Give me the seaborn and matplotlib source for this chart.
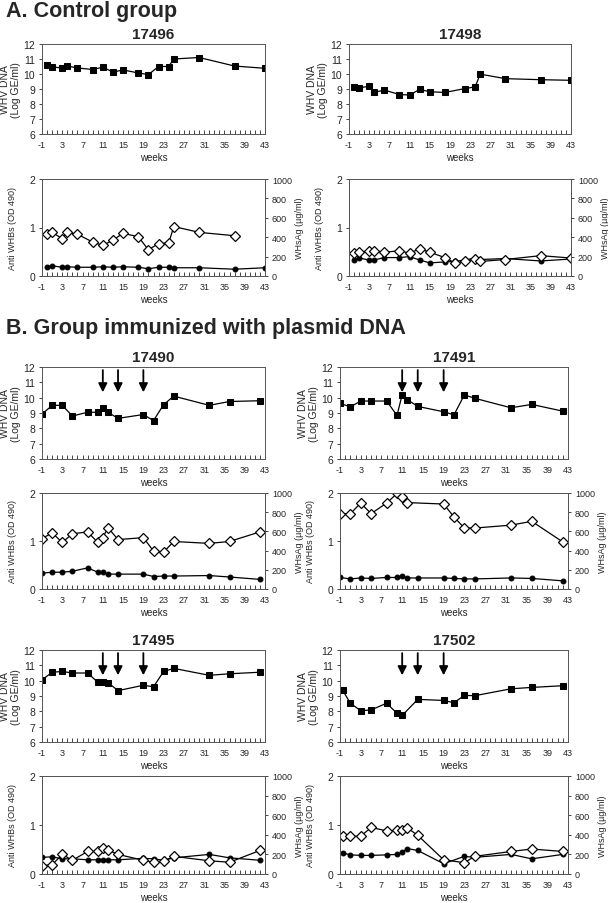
import matplotlib
matplotlib.use("Agg")
import matplotlib.pyplot as plt
import seaborn as sns

# ---- data ----
weeks_a = [0, 1, 3, 4, 6, 9, 11, 13, 15, 18, 20, 22, 24, 25, 30, 37, 43]
weeks_b = [-1, 1, 3, 5, 8, 10, 11, 12, 14, 19, 21, 23, 25, 32, 36, 42]
arrow_weeks = [11, 14, 19]

# 17496 (control)
dna_17496 = [10.6, 10.47, 10.4, 10.53, 10.4, 10.3, 10.45, 10.13, 10.27, 10.07, 9.96, 10.5, 10.5, 11.0, 11.1, 10.53, 10.38]
ag_weeks_17496 = [0, 1, 3, 4, 6, 9, 11, 13, 15, 18, 20, 22, 24, 25, 30, 37]
ag_17496 = [430, 450, 385, 450, 430, 350, 315, 370, 440, 405, 270, 335, 340, 510, 450, 415]
anti_17496 = [0.19, 0.21, 0.18, 0.19, 0.18, 0.18, 0.19, 0.18, 0.19, 0.18, 0.15, 0.18, 0.18, 0.17, 0.17, 0.14, 0.17]

# 17498 (control)
dna_weeks_17498 = [0, 1, 3, 4, 6, 9, 11, 13, 15, 18, 22, 24, 25, 30, 37, 43]
dna_17498 = [9.12, 9.08, 9.18, 8.77, 8.93, 8.63, 8.6, 8.97, 8.82, 8.77, 9.03, 9.14, 9.99, 9.69, 9.62, 9.58]
ag_17498 = [235, 245, 255, 260, 245, 260, 235, 280, 245, 190, 135, 150, 175, 150, 170, 210, 185]
anti_17498 = [0.33, 0.37, 0.33, 0.33, 0.38, 0.38, 0.40, 0.33, 0.27, 0.29, 0.30, 0.33, 0.37, 0.34, 0.36, 0.31, 0.35]

# 17490 (plasmid DNA)
dna_17490 = [8.92, 9.5, 9.5, 8.8, 9.05, 9.05, 9.35, 9.05, 8.65, 8.9, 8.5, 9.55, 10.1, 9.5, 9.75, 9.8]
ag_17490 = [525, 585, 485, 575, 595, 485, 535, 640, 515, 535, 395, 385, 495, 475, 495, 595]
anti_17490 = [0.33, 0.35, 0.35, 0.37, 0.44, 0.35, 0.35, 0.31, 0.31, 0.31, 0.26, 0.27, 0.27, 0.28, 0.25, 0.20]

# 17491 (plasmid DNA)
dna_17491 = [9.63, 9.4, 9.78, 9.78, 9.78, 8.84, 10.2, 9.87, 9.43, 9.08, 8.88, 10.18, 9.96, 9.34, 9.56, 9.12]
ag_weeks_17491 = [-1, 1, 3, 5, 8, 10, 11, 12, 19, 21, 23, 25, 32, 36, 42]
ag_17491 = [785, 785, 895, 785, 895, 995, 955, 900, 885, 750, 635, 635, 665, 705, 490]
anti_17491 = [0.24, 0.21, 0.23, 0.22, 0.24, 0.24, 0.27, 0.23, 0.23, 0.23, 0.22, 0.21, 0.21, 0.23, 0.22, 0.17]

# 17495 (plasmid DNA)
dna_17495 = [10.05, 10.55, 10.6, 10.5, 10.5, 9.9, 9.9, 9.88, 9.35, 9.7, 9.6, 10.6, 10.8, 10.35, 10.45, 10.55]
ag_17495 = [85, 95, 200, 140, 230, 230, 265, 245, 200, 140, 120, 130, 180, 135, 120, 240]
anti_17495 = [0.34, 0.35, 0.31, 0.31, 0.29, 0.29, 0.29, 0.29, 0.29, 0.32, 0.31, 0.28, 0.33, 0.40, 0.33, 0.28]

# 17502 (plasmid DNA)
weeks_17502 = [-0.5, 1, 3, 5, 8, 10, 11, 14, 19, 21, 23, 25, 32, 36, 42]
dna_17502 = [9.38, 8.53, 8.04, 8.09, 8.53, 7.87, 7.73, 8.78, 8.71, 8.56, 9.04, 9.02, 9.47, 9.56, 9.67]
ag_weeks_17502 = [-0.5, 1, 3, 5, 8, 10, 11, 12, 14, 19, 23, 25, 32, 36, 42]
ag_17502 = [385, 385, 385, 475, 440, 445, 450, 470, 395, 145, 115, 180, 230, 255, 230]
anti_weeks_17502 = [-0.5, 1, 3, 5, 8, 10, 11, 12, 14, 19, 23, 25, 32, 36, 42]
anti_17502 = [0.43, 0.39, 0.38, 0.38, 0.39, 0.40, 0.44, 0.52, 0.48, 0.21, 0.36, 0.34, 0.40, 0.31, 0.40]

sns.set_style("ticks")
plt.rcParams["font.family"] = ["Liberation Sans", "DejaVu Sans"]
plt.rcParams["axes.unicode_minus"] = False

W, H = 608, 904
fig = plt.figure(figsize=(W / 100, H / 100), dpi=100)


def rect(x0, y0, x1, y1):
    return [x0 / W, 1 - y1 / H, (x1 - x0) / W, (y1 - y0) / H]


def style_x(ax):
    ax.set_xlim(-1, 43)
    ax.set_xticks(range(-1, 44, 4))
    ax.set_xticks(range(-1, 44, 1), minor=True)
    ax.tick_params(axis="x", which="minor", direction="in", length=3, width=0.6)
    ax.tick_params(axis="x", which="major", direction="in", length=3, width=0.6, labelsize=6.5, pad=4.5)
    ax.tick_params(axis="y", which="major", direction="out", length=2, width=0.6, labelsize=7.5, pad=3)
    for s in ax.spines.values():
        s.set_linewidth(0.7)
        s.set_color("#555555")
    ax.set_xlabel("weeks", fontsize=7, labelpad=2)


def dna_panel(r, weeks, vals, title, arrows=False):
    ax = fig.add_axes(rect(*r))
    sns.lineplot(x=weeks, y=vals, marker="s", color="k", markersize=4, linewidth=0.9,
                 markeredgecolor="k", sort=False, ax=ax)
    style_x(ax)
    ax.set_ylim(6, 12)
    ax.set_yticks(range(6, 13))
    ax.set_ylabel("WHV DNA\n(Log GE/ml)", fontsize=7.5, labelpad=2, linespacing=1.1)
    ax.set_title(title, fontsize=11, fontweight="bold", pad=4)
    if arrows:
        for w in arrow_weeks:
            ax.annotate("", xy=(w, 10.35), xytext=(w, 11.8),
                        arrowprops=dict(arrowstyle="-|>", color="k", lw=1.3,
                                        mutation_scale=13, shrinkA=0, shrinkB=0))
    return ax


def serology_panel(r, anti_weeks, anti, ag_weeks, ag):
    ax = fig.add_axes(rect(*r))
    sns.lineplot(x=anti_weeks, y=anti, marker="o", color="k", markersize=3.5, linewidth=0.9,
                 markeredgecolor="k", sort=False, ax=ax)
    style_x(ax)
    ax.set_ylim(0, 2)
    ax.set_yticks([0, 1, 2])
    ax.set_ylabel("Anti WHBs (OD 490)", fontsize=6.5, labelpad=9)
    ax2 = ax.twinx()
    sns.lineplot(x=ag_weeks, y=ag, marker="D", color="k", markersize=5, linewidth=0.9,
                 markerfacecolor="white", markeredgecolor="k", markeredgewidth=0.9,
                 sort=False, ax=ax2)
    ax2.set_ylim(0, 1000)
    ax2.set_yticks(range(0, 1001, 200))
    ax2.tick_params(axis="y", direction="out", length=2, width=0.6, labelsize=6.5, pad=3)
    ax2.set_ylabel("WHsAg (µg/ml)", fontsize=6.5, labelpad=2)
    for s in ax2.spines.values():
        s.set_linewidth(0.7)
        s.set_color("#555555")
    return ax, ax2


# section headers
fig.text(6 / W, 1 - 12 / H, "A. Control group", fontsize=15.5, fontweight="bold", va="center")
fig.text(6 / W, 1 - 329 / H, "B. Group immunized with plasmid DNA", fontsize=15.5, fontweight="bold", va="center")

L = (42, 265)
R = (349, 571)

# row A
dna_panel((L[0], 45, L[1], 135), weeks_a, dna_17496, "17496")
serology_panel((L[0], 180, L[1], 277), weeks_a, anti_17496, ag_weeks_17496, ag_17496)
dna_panel((R[0], 45, R[1], 135), dna_weeks_17498, dna_17498, "17498")
serology_panel((R[0], 180, R[1], 277), weeks_a, anti_17498, weeks_a, ag_17498)

# row B1
dna_panel((L[0], 368, L[1], 460), weeks_b, dna_17490, "17490", arrows=True)
serology_panel((L[0], 494, L[1], 590), weeks_b, anti_17490, weeks_b, ag_17490)
dna_panel((340, 368, 568, 460), weeks_b, dna_17491, "17491", arrows=True)
serology_panel((340, 494, 568, 590), weeks_b, anti_17491, ag_weeks_17491, ag_17491)

# row B2
dna_panel((L[0], 651, L[1], 743), weeks_b, dna_17495, "17495", arrows=True)
serology_panel((L[0], 777, L[1], 875), weeks_b, anti_17495, weeks_b, ag_17495)
dna_panel((340, 651, 568, 743), weeks_17502, dna_17502, "17502", arrows=True)
serology_panel((340, 777, 568, 875), anti_weeks_17502, anti_17502, ag_weeks_17502, ag_17502)

fig.savefig("out.png", dpi=100)
